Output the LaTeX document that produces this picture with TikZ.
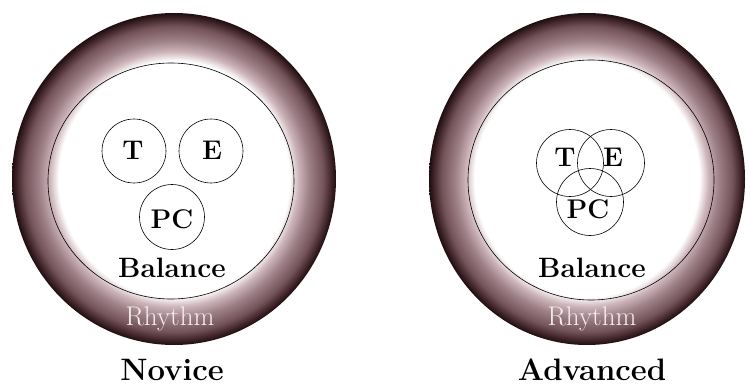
\documentclass[tikz,border=0pt]{standalone}
\usepackage{fontspec}
\definecolor{rshA}{HTML}{CDB5BA}
\definecolor{rshB}{HTML}{9E8088}
\definecolor{rshC}{HTML}{74545A}
\definecolor{rshD}{HTML}{3A2024}
\definecolor{rshE}{HTML}{1E0E10}
\definecolor{rhytxt}{HTML}{F6EEEE}
\pgfdeclareradialshading{ringshade}{\pgfpoint{0bp}{0bp}}{%
  color(0bp)=(white); color(17.8bp)=(white); color(19.2bp)=(rshA);
  color(20.9bp)=(rshB); color(23bp)=(rshC); color(24.4bp)=(rshD);
  color(25bp)=(rshE); color(50bp)=(rshE)}
\begin{document}
\begin{tikzpicture}[x=1pt,y=-1pt,
  outerdisc/.style={shading=ringshade},
  innerline/.style={draw=black,line width=0.6pt},
  smallring/.style={circle,draw=black,line width=0.6pt,minimum size=#1,inner sep=0pt},
  lbl/.style={font=\fontsize{27}{31}\selectfont\bfseries,inner sep=0pt},
  rhy/.style={font=\fontsize{27}{31}\selectfont,text=rhytxt,inner sep=0pt,anchor=base},
  bal/.style={font=\fontsize{28}{32}\selectfont\bfseries,inner sep=0pt,anchor=base},
  ttl/.style={font=\fontsize{31}{35}\selectfont\bfseries,inner sep=0pt,anchor=base}]
\useasboundingbox (0,0) rectangle (750,388);
\fill[white] (0,0) rectangle (750,388);
% ---------- Novice ----------
\shade[outerdisc] (174,179) ellipse [x radius=162, y radius=166];
\draw[innerline] (171,181) ellipse [x radius=123, y radius=118];
\node[smallring=64] (lTc) at (134,151) {};
\node[smallring=64] (lEc) at (211,151) {};
\node[smallring=65] (lPc) at (172,217) {};
\node[lbl] (lT) at (133,150) {T};
\node[lbl] (lE) at (212,150) {E};
\node[lbl] (lP) at (172,219) {PC};
\node[bal] (lBal) at (172,277) {Balance};
\node[rhy] (lRhy) at (170,325) {Rhythm};
\node[ttl] (lTtl) at (172,380) {Novice};
% ---------- Advanced ----------
\shade[outerdisc] (587,179) ellipse [x radius=158, y radius=166];
\draw[innerline] (591,180) ellipse [x radius=123, y radius=120];
\node[smallring=67] (rTc) at (570,163) {};
\node[smallring=67] (rEc) at (611,163) {};
\node[smallring=67] (rPc) at (590,202) {};
\node[lbl] (rT) at (565,157) {T};
\node[lbl] (rE) at (613,157) {E};
\node[lbl] (rP) at (588,209) {PC};
\node[bal] (rBal) at (592,277) {Balance};
\node[rhy] (rRhy) at (592,325) {Rhythm};
\node[ttl] (rTtl) at (592,380) {Advanced};
\end{tikzpicture}
\end{document}
